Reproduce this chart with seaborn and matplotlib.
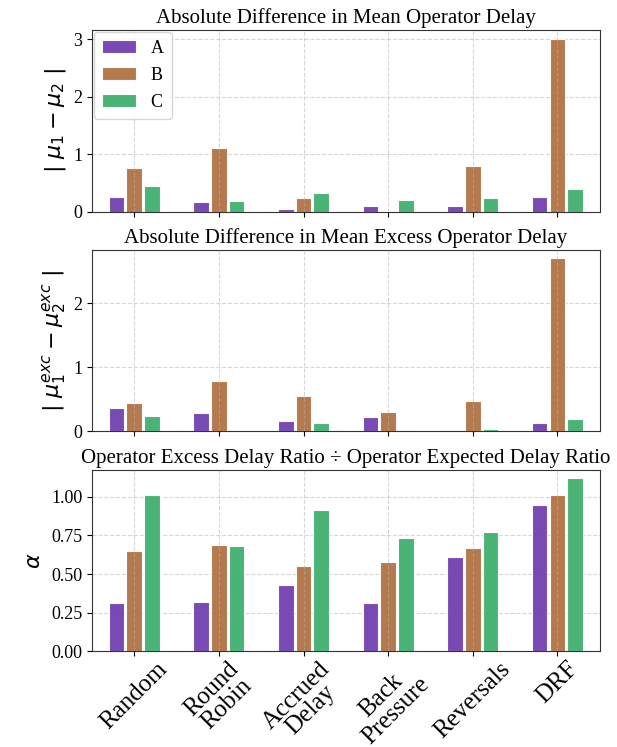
import matplotlib
matplotlib.use("Agg")
import matplotlib.pyplot as plt
import seaborn as sns
import pandas as pd

# -------------------------------
# DATA
# -------------------------------
schedulers = ["Random", "Round\nRobin", "Accrued\nDelay", "Back\nPressure", "Reversals", "DRF"]
groups = ["A", "B", "C"]

mean_delay_a = [0.25, 0.17, 0.04, 0.10, 0.10, 0.26]
mean_delay_b = [0.76, 1.11, 0.24, 0.01, 0.80, 3.01]
mean_delay_c = [0.44, 0.18, 0.33, 0.21, 0.24, 0.39]

excess_delay_a = [0.37, 0.29, 0.16, 0.22, 0.03, 0.13]
excess_delay_b = [0.44, 0.79, 0.55, 0.31, 0.47, 2.70]
excess_delay_c = [0.24, 0.00, 0.13, 0.02, 0.04, 0.19]

alpha_a = [0.31, 0.32, 0.43, 0.31, 0.61, 0.95]
alpha_b = [0.65, 0.69, 0.55, 0.58, 0.67, 1.015]
alpha_c = [1.015, 0.685, 0.915, 0.735, 0.77, 1.12]

colors = ["#7340b0", "#b07343", "#40b070"]

titles = [
    "Absolute Difference in Mean Operator Delay",
    "Absolute Difference in Mean Excess Operator Delay",
    "Operator Excess Delay Ratio \u00f7 Operator Expected Delay Ratio",
]
ylabels = [
    r"$|\ \mu_1 - \mu_2\ |$",
    r"$|\ \mu_1^{exc} - \mu_2^{exc}\ |$",
    r"$\alpha$",
]


def to_long(a, b, c):
    rows = []
    for g, vals in zip(groups, [a, b, c]):
        for s, v in zip(schedulers, vals):
            rows.append({"Scheduler": s, "Group": g, "Value": v})
    return pd.DataFrame(rows)


panels = [
    to_long(mean_delay_a, mean_delay_b, mean_delay_c),
    to_long(excess_delay_a, excess_delay_b, excess_delay_c),
    to_long(alpha_a, alpha_b, alpha_c),
]

# -------------------------------
# STYLE
# -------------------------------
plt.rcParams["font.family"] = "serif"
plt.rcParams["font.serif"] = ["Liberation Serif", "DejaVu Serif"]
plt.rcParams["mathtext.fontset"] = "dejavusans"

fig, axes = plt.subplots(3, 1, figsize=(6.17, 7.47), dpi=100, sharex=True)
fig.subplots_adjust(left=0.149, right=0.972, top=0.96, bottom=0.128, hspace=0.21)

for i, (ax, df) in enumerate(zip(axes, panels)):
    sns.barplot(
        data=df, x="Scheduler", y="Value", hue="Group",
        palette=colors, saturation=1, width=0.63, gap=0.12,
        edgecolor="white", linewidth=0.8, alpha=0.95,
        ax=ax, legend=(i == 0),
    )
    ax.set_title(titles[i], fontsize=15, pad=5)
    ax.set_ylabel(ylabels[i], fontsize=16)
    ax.set_xlabel("")
    ax.tick_params(axis="y", labelsize=13)
    ax.grid(True, linestyle="--", color="#b0b0b0", alpha=0.5, linewidth=0.8)
    ax.set_axisbelow(True)
    ax.xaxis.set_zorder(2.5)  # vertical grid drawn over bars
    for sp in ax.spines.values():
        sp.set_color("#333333")
    if i == 0:
        ax.legend(loc="upper left", fontsize=13, labelspacing=0.55,
                  handlelength=1.9, handletextpad=0.8, borderpad=0.45,
                  borderaxespad=0.1, title=None)

axes[2].set_yticks([0.0, 0.25, 0.5, 0.75, 1.0])
axes[2].set_yticklabels(["0.00", "0.25", "0.50", "0.75", "1.00"])
axes[2].tick_params(axis="x", labelsize=18, pad=1)
for lbl in axes[2].get_xticklabels():
    lbl.set_rotation(45)
    lbl.set_ha("center")
    lbl.set_linespacing(0.95)

fig.savefig("out.png", dpi=100)
